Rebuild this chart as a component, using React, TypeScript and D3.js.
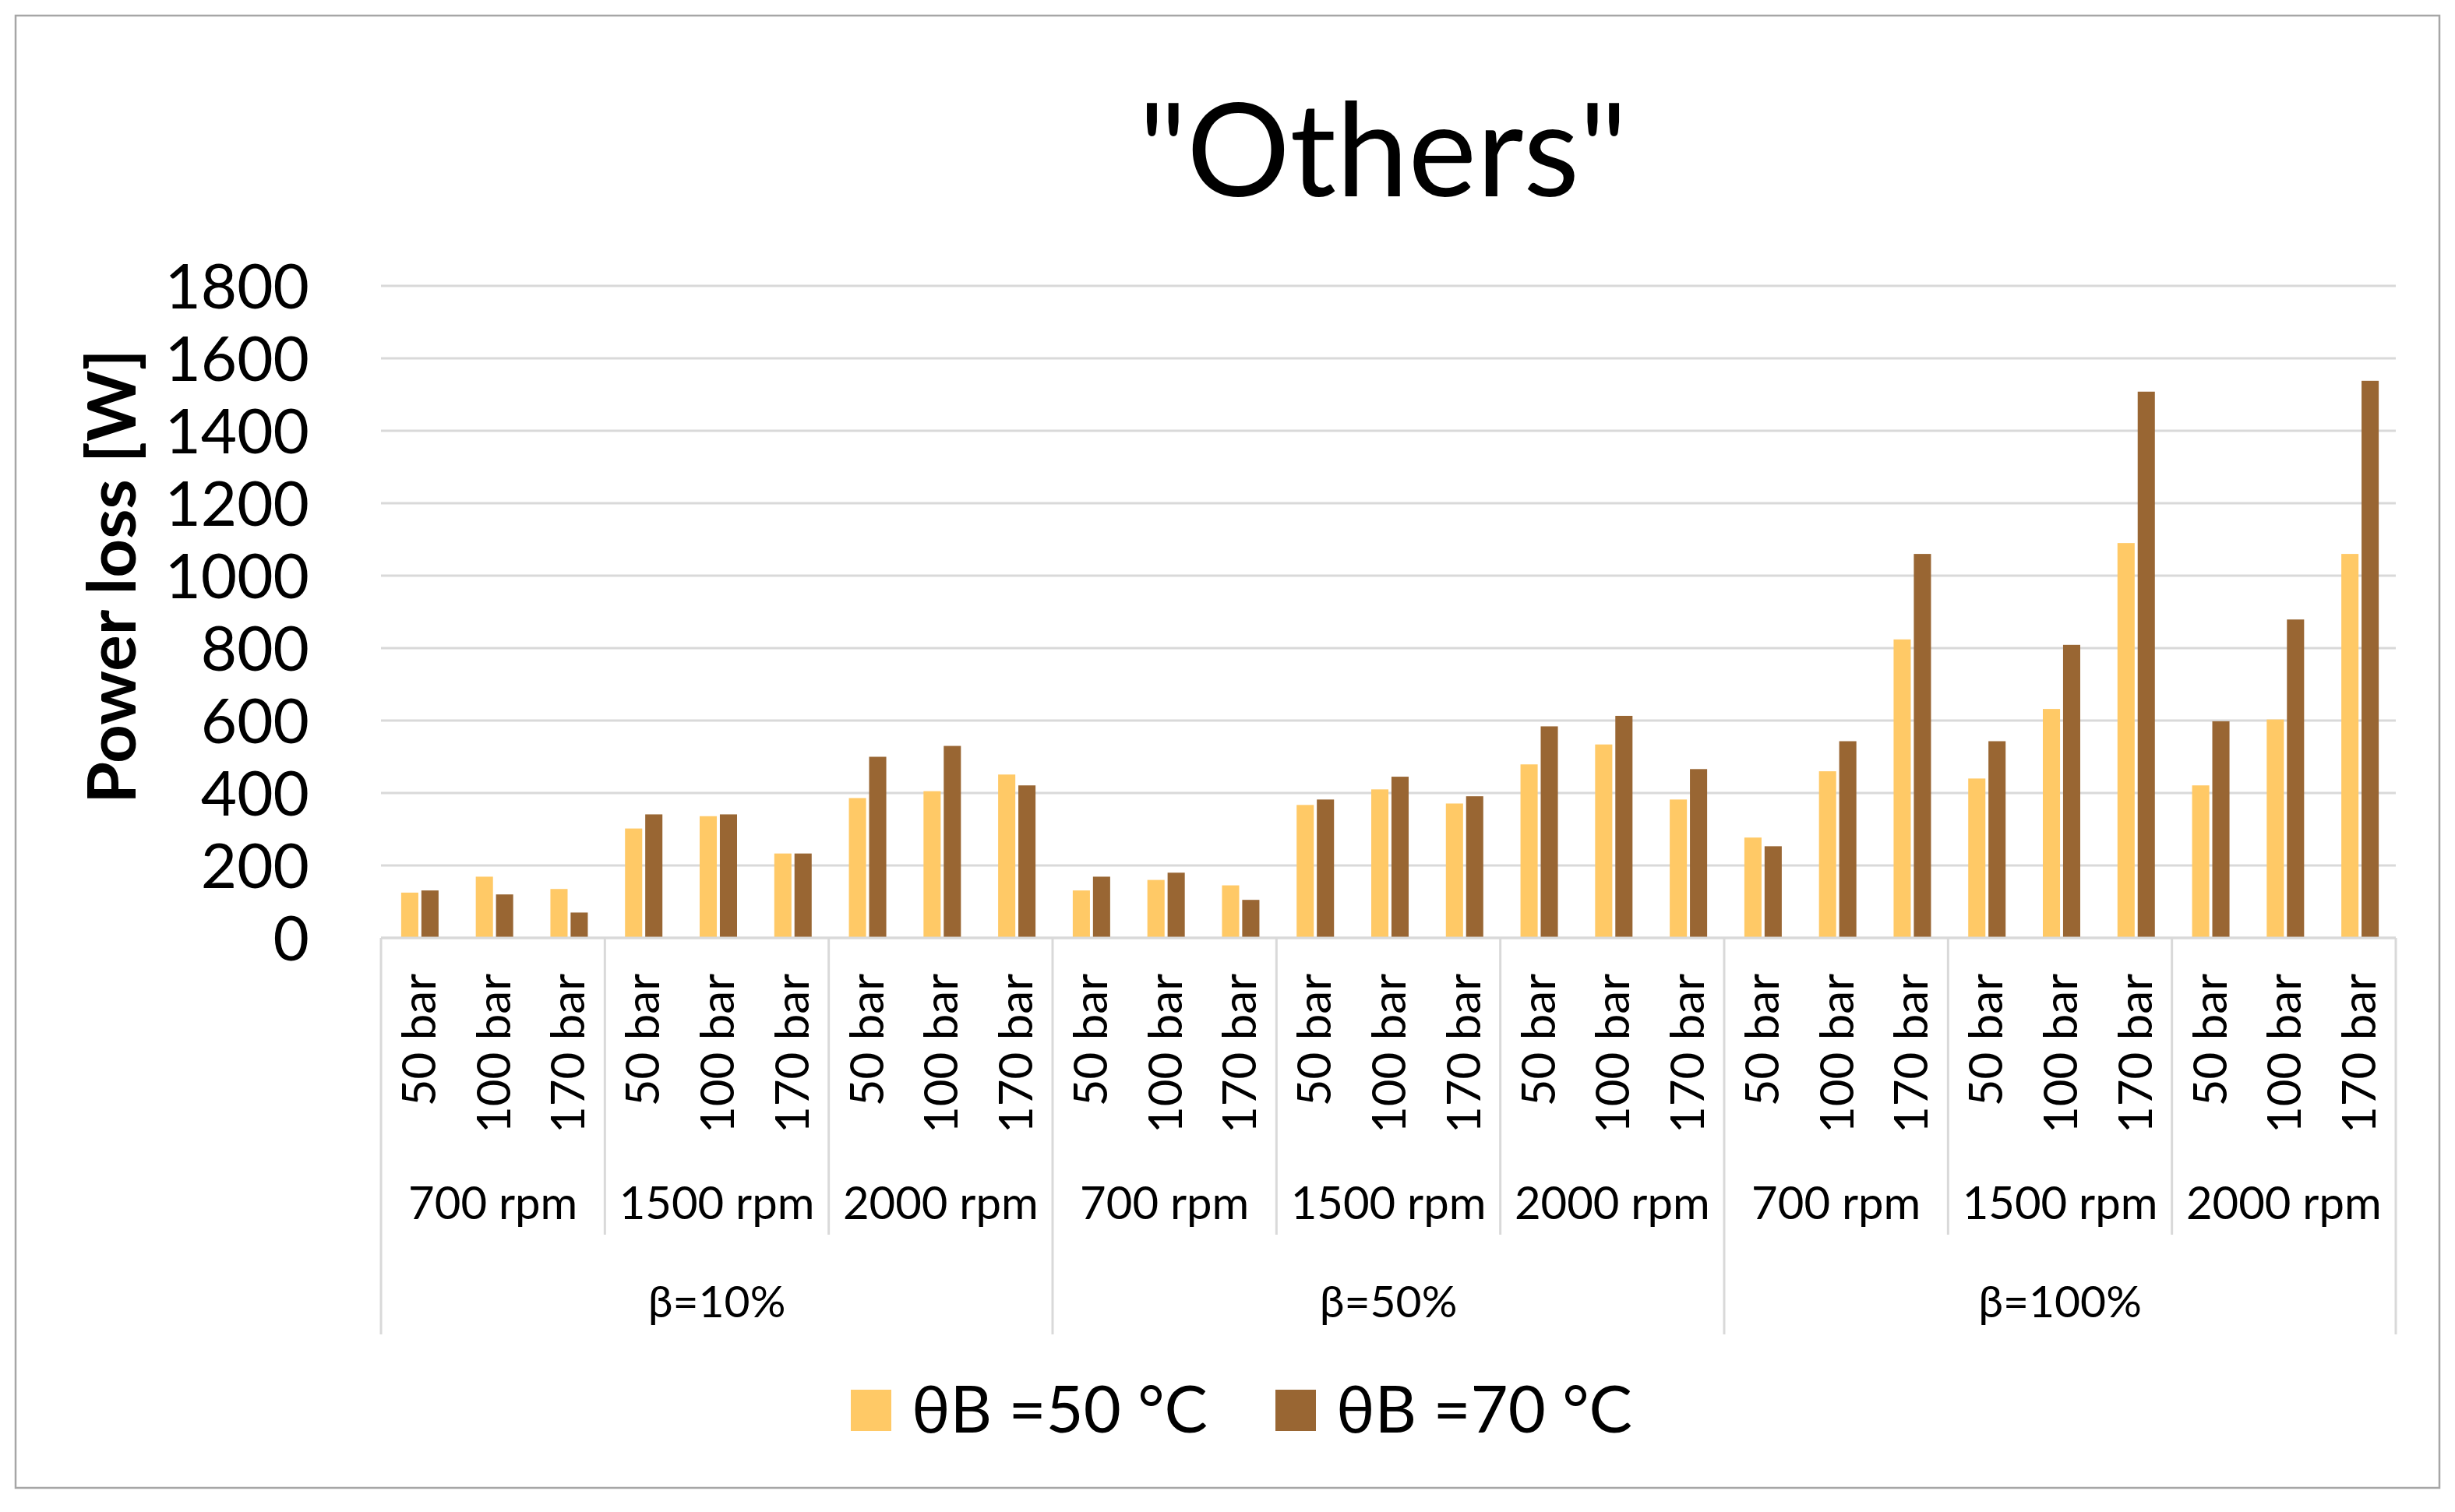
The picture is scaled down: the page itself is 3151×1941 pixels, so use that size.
import React, { useEffect, useRef } from "react";
import * as d3 from "d3";

const betaGroups = ["β=10%", "β=50%", "β=100%"];
const rpmGroups = ["700 rpm", "1500 rpm", "2000 rpm"];
const pressures = ["50 bar", "100 bar", "170 bar"];
const seriesNames = ["θB =50 °C", "θB =70 °C"];
const seriesColors = ["#FFC966", "#996633"];
const loss50 = [125, 169, 135, 302, 336, 233, 386, 405, 451, 131, 160, 145, 367, 410, 371, 479, 534, 382, 277, 460, 824, 440, 632, 1090, 421, 603, 1060];
const loss70 = [131, 120, 70, 341, 341, 233, 500, 530, 421, 169, 180, 105, 382, 445, 391, 584, 613, 466, 253, 543, 1060, 543, 809, 1508, 598, 879, 1538];
const yTicks = [0, 200, 400, 600, 800, 1000, 1200, 1400, 1600, 1800];
const titleText = '"Others"';
const yTitle = "Power loss [W]";

const W = 3151;
const H = 1941;
const FONT = "Lato, 'Open Sans', 'DejaVu Sans', sans-serif";

export default function App() {
  const ref = useRef<SVGSVGElement | null>(null);

  useEffect(() => {
    const svg = d3.select(ref.current);
    svg.selectAll("*").remove();

    const left = 489, right = 3075, top = 367, bottom = 1204;
    const cats: { beta: number; rpm: number; p: number; idx: number }[] = [];
    betaGroups.forEach((_, b) =>
      rpmGroups.forEach((_, r) =>
        pressures.forEach((_, p) => cats.push({ beta: b, rpm: r, p, idx: cats.length }))
      )
    );

    const x = d3.scaleBand<number>().domain(cats.map((c) => c.idx)).range([left, right]).padding(0);
    const y = d3.scaleLinear().domain([0, 1800]).range([bottom, top]);
    const sub = d3.scaleBand<number>().domain([0, 1]).range([0, 48]).paddingInner(0.15);

    svg.append("rect").attr("x", 0).attr("y", 0).attr("width", W).attr("height", H).attr("fill", "#fff");
    svg.append("rect").attr("x", 20).attr("y", 20).attr("width", 3111).attr("height", 1890)
      .attr("fill", "#fff").attr("stroke", "#a6a6a6").attr("stroke-width", 2.5);

    // title
    svg.append("text").attr("x", 1775).attr("y", 252).attr("text-anchor", "middle")
      .attr("font-family", FONT).attr("font-size", 166).attr("fill", "#000").text(titleText);

    // gridlines
    svg.append("g").selectAll("line").data(yTicks).join("line")
      .attr("x1", left).attr("x2", right)
      .attr("y1", (d) => y(d)).attr("y2", (d) => y(d))
      .attr("stroke", "#d9d9d9").attr("stroke-width", 3);

    // y tick labels
    svg.append("g").selectAll("text").data(yTicks).join("text")
      .attr("x", 397).attr("y", (d) => y(d) + 29)
      .attr("text-anchor", "end").attr("font-family", FONT).attr("font-size", 80).attr("fill", "#000")
      .text((d) => String(d));

    // y title
    svg.append("text").attr("transform", `translate(174,740) rotate(-90)`)
      .attr("text-anchor", "middle").attr("font-family", FONT).attr("font-weight", 700)
      .attr("font-size", 87).attr("fill", "#000").text(yTitle);

    // bars
    const series = [loss50, loss70];
    series.forEach((vals, s) => {
      svg.append("g").selectAll("rect").data(cats).join("rect")
        .attr("x", (c) => (x(c.idx) as number) + x.bandwidth() / 2 - 22 + (sub(s) as number))
        .attr("width", sub.bandwidth())
        .attr("y", (c) => y(vals[c.idx]))
        .attr("height", (c) => bottom - y(vals[c.idx]))
        .attr("fill", seriesColors[s]);
    });

    // axis line
    svg.append("line").attr("x1", left).attr("x2", right).attr("y1", bottom).attr("y2", bottom)
      .attr("stroke", "#d9d9d9").attr("stroke-width", 3);

    // separators
    const boundaries = d3.range(0, cats.length + 1, 3);
    svg.append("g").selectAll("line").data(boundaries).join("line")
      .attr("x1", (i) => left + i * x.step()).attr("x2", (i) => left + i * x.step())
      .attr("y1", bottom).attr("y2", (i) => (i % 9 === 0 ? 1713 : 1585))
      .attr("stroke", "#d9d9d9").attr("stroke-width", 3);

    // pressure labels
    svg.append("g").selectAll("text").data(cats).join("text")
      .attr("transform", (c) => `translate(${(x(c.idx) as number) + x.bandwidth() / 2 + 22},1250) rotate(-90)`)
      .attr("text-anchor", "end").attr("font-family", FONT).attr("font-size", 60).attr("fill", "#000")
      .text((c) => pressures[c.p]);

    // rpm labels
    const rpmCells = d3.range(9);
    svg.append("g").selectAll("text").data(rpmCells).join("text")
      .attr("x", (i) => left + (i * 3 + 1.5) * x.step()).attr("y", 1565)
      .attr("text-anchor", "middle").attr("font-family", FONT).attr("font-size", 58).attr("fill", "#000")
      .text((i) => rpmGroups[i % 3]);

    // beta labels
    svg.append("g").selectAll("text").data(betaGroups).join("text")
      .attr("x", (_, i) => left + (i * 9 + 4.5) * x.step()).attr("y", 1691)
      .attr("text-anchor", "middle").attr("font-family", FONT).attr("font-size", 57).attr("fill", "#000")
      .text((d) => d);

    // legend
    const legendX = [1092, 1637];
    seriesNames.forEach((name, i) => {
      svg.append("rect").attr("x", legendX[i]).attr("y", 1784).attr("width", 52).attr("height", 53)
        .attr("fill", seriesColors[i]);
      svg.append("text").attr("x", legendX[i] + 78).attr("y", 1839)
        .attr("font-family", FONT).attr("font-size", 83).attr("fill", "#000").text(name);
    });
  }, []);

  return (
    <svg
      ref={ref}
      width={W}
      height={H}
      viewBox={`0 0 ${W} ${H}`}
      style={{ position: "absolute", left: 0, top: 0, display: "block" }}
    />
  );
}
